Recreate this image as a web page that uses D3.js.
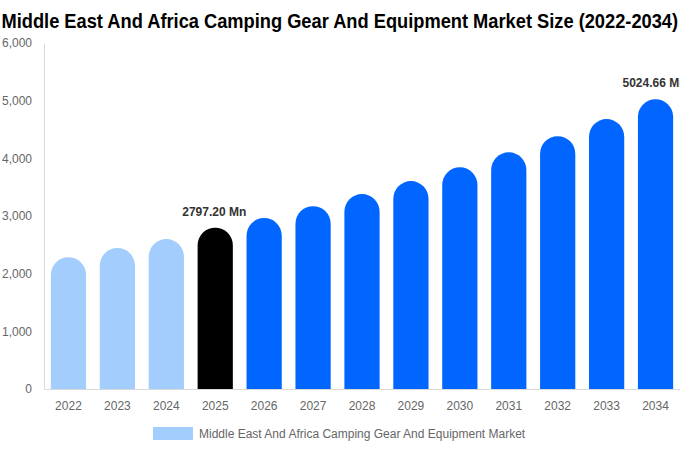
<!DOCTYPE html>
<meta charset="utf-8">
<html>
<head>
<script src="https://d3js.org/d3.v7.min.js"></script>
<style>
  body { margin: 0; background: #fff; }
  text { font-family: "Liberation Sans", Arial, sans-serif; }
</style>
</head>
<body>
<svg id="chart" width="680" height="450"></svg>
<script>
// chart data
var years = ["2022","2023","2024","2025","2026","2027","2028","2029","2030","2031","2032","2033","2034"];
var values = [2285, 2445, 2600, 2797.20, 2965, 3170, 3380, 3605, 3845, 4105, 4385, 4680, 5024.66];
var yTicks = [0, 1000, 2000, 3000, 4000, 5000, 6000];
var labelled = {"2025": "2797.20 Mn", "2034": "5024.66 Mn"};
var seriesName = "Middle East And Africa Camping Gear And Equipment Market";
var titleText = "Middle East And Africa Camping Gear And Equipment Market Size (2022-2034)";

var svg = d3.select("#chart"),
    width = +svg.attr("width"),
    height = +svg.attr("height");

var margin = {top: 43, right: 0, bottom: 61, left: 44};

var x = d3.scaleBand()
    .domain(years)
    .range([margin.left, width - margin.right])
    .paddingInner(0.28)
    .paddingOuter(0.14);

var y = d3.scaleLinear()
    .domain([0, 6000])
    .range([height - margin.bottom, margin.top]);

function barColor(yr) {
    if (+yr < 2025) return "#a2cdfd";
    if (+yr == 2025) return "#000000";
    return "#0066ff";
}

// title - squeezed horizontally to fit the width like the original
var title = svg.append("text")
    .attr("x", 0)
    .attr("y", 0)
    .attr("font-size", 20)
    .attr("font-weight", "bold")
    .attr("fill", "#000")
    .text(titleText);
var tw = title.node().getComputedTextLength();
var sx = Math.min(1, 677 / tw);
title.attr("transform", "translate(1.5,28) scale(" + sx + ",1)");

// y axis
var yAxis = svg.append("g")
    .attr("transform", "translate(" + margin.left + ",0)")
    .call(d3.axisLeft(y).tickValues(yTicks).tickSize(0).tickPadding(12).tickFormat(d3.format(",")));
yAxis.select(".domain").attr("stroke", "#d9d9d9");
yAxis.selectAll("text").attr("fill", "#666").attr("font-size", 12);

// x axis
var xAxis = svg.append("g")
    .attr("transform", "translate(0," + (height - margin.bottom) + ")")
    .call(d3.axisBottom(x).tickSize(0).tickPadding(12));
xAxis.select(".domain").attr("stroke", "#d9d9d9");
xAxis.selectAll("text").attr("fill", "#666").attr("font-size", 12);

// bars with rounded tops
function barPath(yr, v) {
    var x0 = x(yr), w = x.bandwidth(), r = w / 2;
    var y0 = y(0), y1 = y(v);
    return "M" + x0 + "," + y0 +
        "V" + (y1 + r) +
        "A" + r + "," + r + " 0 0 1 " + (x0 + w) + "," + (y1 + r) +
        "V" + y0 + "Z";
}

svg.append("g")
    .selectAll("path")
    .data(years)
    .enter()
    .append("path")
        .attr("d", function(d, i) { return barPath(d, values[i]); })
        .attr("fill", function(d) { return barColor(d); });

// value labels (the last one runs off the right edge, as in the original)
svg.append("g")
    .selectAll("text")
    .data(years.filter(function(d) { return labelled[d]; }))
    .enter()
    .append("text")
        .attr("x", function(d) { return x(d) + x.bandwidth() / 2 - 1; })
        .attr("y", function(d) { return y(values[years.indexOf(d)]) - 12; })
        .attr("text-anchor", "middle")
        .attr("font-size", 12)
        .attr("font-weight", "bold")
        .attr("fill", "#333")
        .text(function(d) { return labelled[d]; });

// legend
var legend = svg.append("g").attr("transform", "translate(153,427)");
legend.append("rect")
    .attr("width", 40)
    .attr("height", 13)
    .attr("fill", "#a2cdfd");
legend.append("text")
    .attr("x", 46)
    .attr("y", 11)
    .attr("font-size", 12)
    .attr("fill", "#666")
    .text(seriesName);
</script>
</body>
</html>
